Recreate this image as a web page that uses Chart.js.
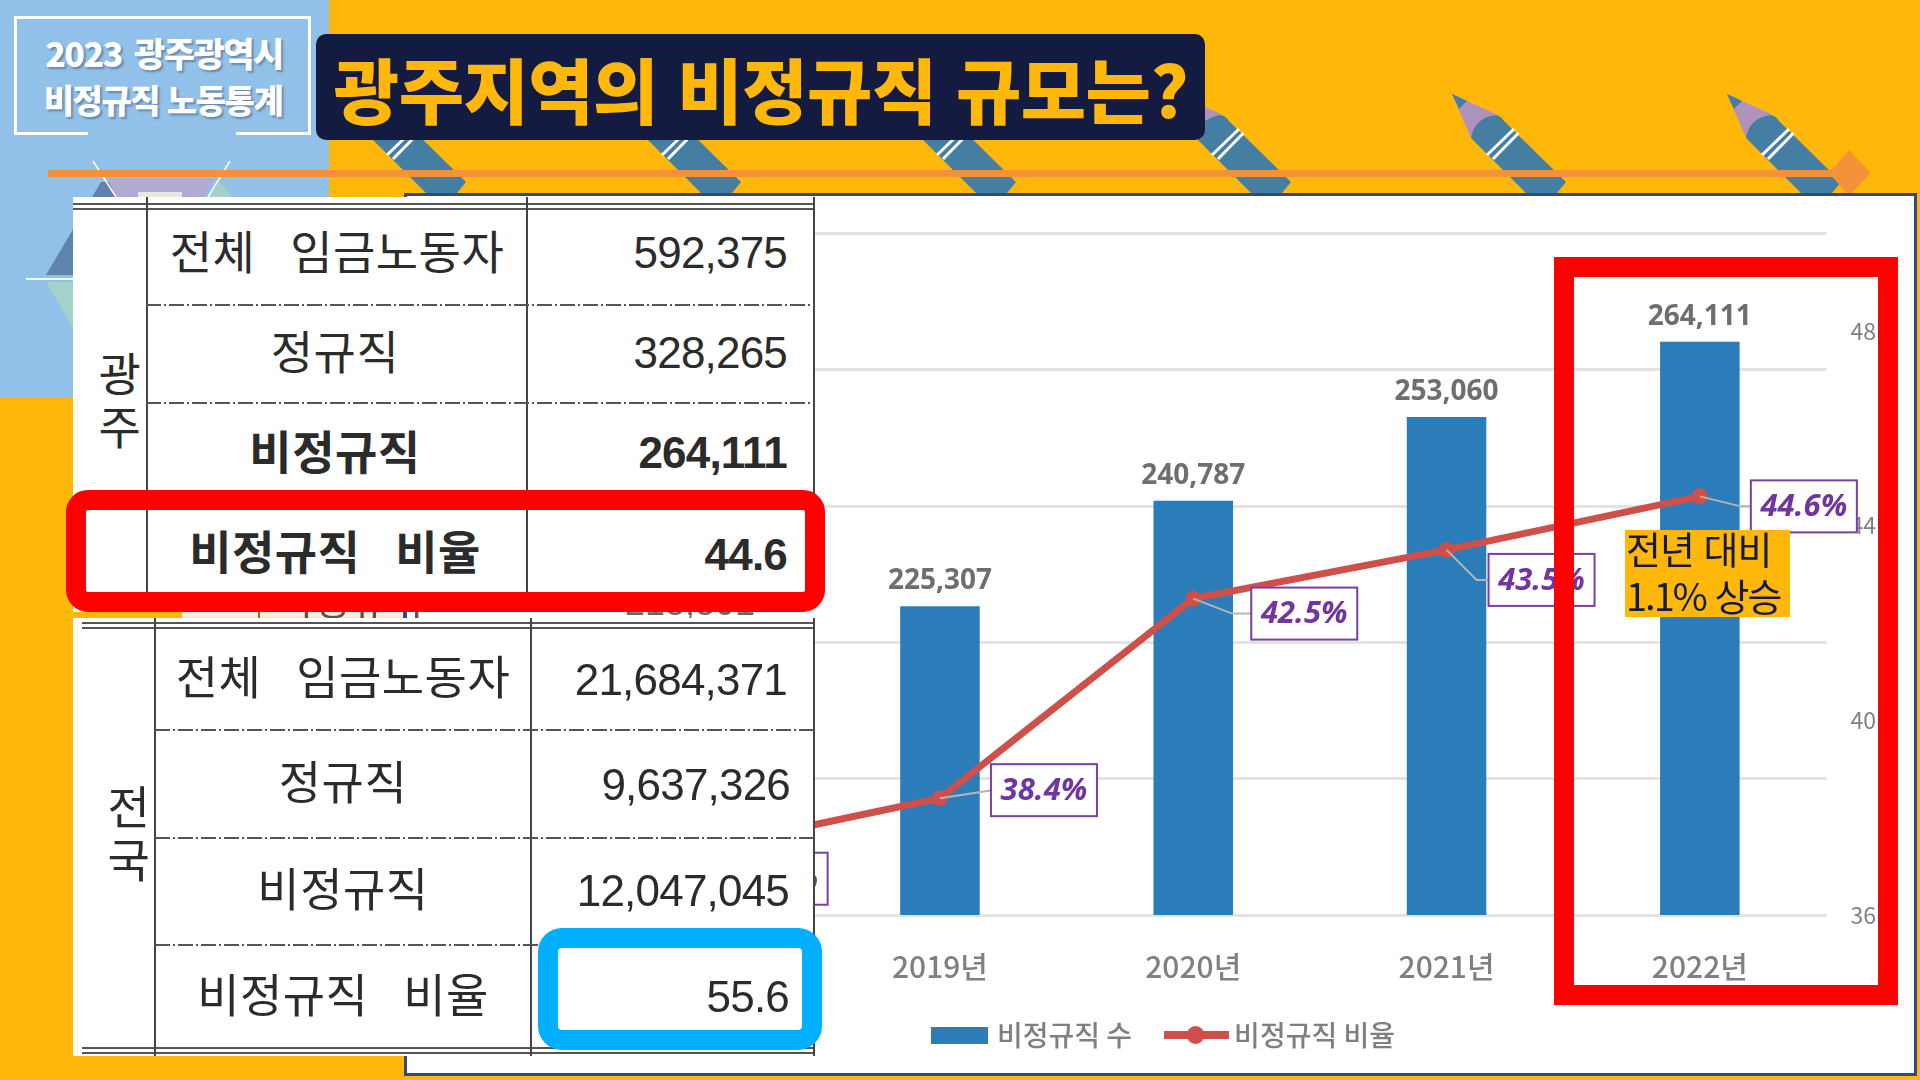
<!DOCTYPE html>
<html lang="ko">
<head>
<meta charset="utf-8">
<title>광주지역의 비정규직 규모는?</title>
<script src="https://cdn.jsdelivr.net/npm/chart.js@4"></script>
<style>
    html, body { margin: 0; padding: 0; }
    body { width: 1920px; height: 1080px; overflow: hidden; position: relative; background: #FFB809; font-family: "Noto Sans CJK KR", sans-serif; }
    .abs { position: absolute; }
    #deco { position: absolute; left: 0; top: 0; }
    #panel { position: absolute; left: 404px; top: 193px; width: 1507px; height: 877px; background: #fff; border: 3px solid #2F4A80; }
    #panel canvas { display: block; }
    .t { position: absolute; white-space: pre; line-height: 1; color: #2b2b2b; }
    .c { transform: translate(-50%, -50%); }
    .r { transform: translate(-100%, -50%); }
    .num { font-family: "Liberation Sans", sans-serif; font-size: 44px; letter-spacing: -0.8px; }
    .lab { font-size: 46px; letter-spacing: 0.5px; word-spacing: 4px; }
    .b { font-weight: 700; }
    .vl { position: absolute; width: 2px; background: #444; }
    .dbl { position: absolute; height: 3px; border-top: 2px solid #555; border-bottom: 2px solid #555; }
    .dash { position: absolute; height: 2px; background: repeating-linear-gradient(90deg, #555 0 15px, transparent 15px 18px, #555 18px 20px, transparent 20px 23px); }
</style>
</head>
<body>
<svg id="deco" width="1920" height="1080" xmlns="http://www.w3.org/2000/svg"></svg>
<div id="panel"><canvas id="comboChart" width="1506" height="877"></canvas></div>
<div id="overlay"></div>

<script>
// 차트 데이터
const years = ['2018년', '2019년', '2020년', '2021년', '2022년'];
const workerCounts = [213000, 225307, 240787, 253060, 264111];
const workerRates = [37.3, 38.4, 42.5, 43.5, 44.6];
const countTicks = [180000, 200000, 220000, 240000, 260000, 280000];
const rateTicks = [36, 40, 44, 48];

// 표 내용
const gwangjuLabels = ['전체  임금노동자', '정규직', '비정규직', '비정규직  비율'];
const gwangjuValues = ['592,375', '328,265', '264,111', '44.6'];
const nationLabels = ['전체  임금노동자', '정규직', '비정규직', '비정규직  비율'];
const nationValues = ['21,684,371', '9,637,326', '12,047,045', '55.6'];

const FONT = '"Noto Sans CJK KR", sans-serif';

/**
 * 배경 장식 (연필, 삼각형, 주황색 선)
 */
function drawDeco() {
    const svg = document.getElementById('deco');
    let html = '<rect x="0" y="0" width="329" height="397" fill="#91C0E8"/>';

    html += '<polygon points="101,182 46,275 73,275 140,275 120,182" fill="#5F83AA"/>';
    html += '<polygon points="46,282 73,282 73,328" fill="#A5D2C8"/>';
    html += '<polygon points="220,182 208,197 232,197" fill="#A5D2C8"/>';
    html += '<polygon points="107,178 213,178 205,197 116,197" fill="#B0ABD3"/>';
    html += '<rect x="138" y="192" width="44" height="5" fill="#E8E8E0"/>';
    html += '<path d="M93 161 L116 197 M230 161 L208 197" stroke="#fff" stroke-width="1.5" fill="none"/>';
    html += '<path d="M26 279 L73 279" stroke="#fff" stroke-width="2"/>';

    [352, 627, 902, 1177, 1452, 1727].forEach(x => {
        html += `<g transform="translate(${x},94)">
            <polygon points="0,0 44,20 19,44" fill="#B093BC"/>
            <polygon points="0,0 15,7 7,15" fill="#447FA3"/>
            <path d="M19 44 Q22 24 44 21 Q49 22 52 27 L114 88 L105 99 L74 99 Z" fill="#447FA3"/>
            <path d="M62 35 L35 61 M66.5 39 L41 65" stroke="#fff" stroke-width="3" fill="none"/>
        </g>`;
    });

    html += '<rect x="48" y="170" width="1785" height="7" fill="#F4923A"/>';
    html += '<polygon points="1849,150 1871,173 1849,196 1829,173" fill="#F4923A"/>';
    svg.innerHTML = html;
}

/**
 * 절대 위치 글자 추가
 */
function addText(parent, text, x, y, cls, extra) {
    const el = document.createElement('div');
    el.className = 't ' + cls;
    el.textContent = text;
    el.style.left = x + 'px';
    el.style.top = y + 'px';
    if (extra) Object.assign(el.style, extra);
    parent.appendChild(el);
    return el;
}

function addBox(parent, x, y, w, h, style) {
    const el = document.createElement('div');
    el.className = 'abs';
    el.style.left = x + 'px';
    el.style.top = y + 'px';
    el.style.width = w + 'px';
    el.style.height = h + 'px';
    if (style) Object.assign(el.style, style);
    parent.appendChild(el);
    return el;
}

function addLine(parent, cls, x, y, size) {
    const el = document.createElement('div');
    el.className = cls;
    el.style.left = x + 'px';
    el.style.top = y + 'px';
    if (cls === 'vl') el.style.height = size + 'px';
    else el.style.width = size + 'px';
    parent.appendChild(el);
}

/**
 * 머리글과 두 개의 표
 */
function drawOverlay() {
    const root = document.getElementById('overlay');
    const white = { color: '#fff', fontWeight: '900', textShadow: '2px 2px 2px rgba(70,90,120,.55)', letterSpacing: '-1.5px' };

    // 왼쪽 위 제목 상자
    addBox(root, 14, 16, 291, 116, { border: '3px solid #fff', borderBottom: 'none' });
    addBox(root, 14, 132, 74, 3, { background: '#fff' });
    addBox(root, 236, 132, 72, 3, { background: '#fff' });
    addText(root, '2023 광주광역시', 164, 53, 'c', { ...white, fontSize: '34px', wordSpacing: '4px' });
    addText(root, '비정규직 노동통계', 163, 99, 'c', { ...white, fontSize: '33px' });

    // 메인 제목
    addBox(root, 316, 34, 889, 106, { background: '#141B41', borderRadius: '10px' });
    addText(root, '광주지역의 비정규직 규모는?', 761, 87, 'c', { color: '#FFB809', fontWeight: '900', fontSize: '71px', letterSpacing: '-0.5px' });

    // 뒤에 깔린 표 조각 (대부분 가려짐)
    const strip = addBox(root, 182, 612, 633, 6, { overflow: 'hidden' });
    addBox(strip, 0, 0, 222, 6, { background: '#FDEBD9' });
    addBox(strip, 76, 0, 2, 6, { background: '#8a6a40' });
    addBox(strip, 221, 0, 2, 6, { background: '#2F4A80' });
    addText(strip, '비정규직', 168, -14, 'c', { fontSize: '40px', color: '#555' });
    addText(strip, '218,801', 508, -9, 'c', { fontSize: '36px', color: '#666', fontFamily: '"Liberation Sans", sans-serif' });

    // 광주 표
    addBox(root, 73, 197, 742, 294, { background: '#fff' });
    addBox(root, 73, 491, 742, 121, { background: '#fff' });
    addLine(root, 'dbl', 73, 203, 742);
    addLine(root, 'vl', 146, 197, 415);
    addLine(root, 'vl', 526, 197, 415);
    addLine(root, 'vl', 813, 197, 300);
    addLine(root, 'dash', 146, 304, 669);
    addLine(root, 'dash', 146, 402, 669);
    const gwangjuLabelY = [249, 349, 449, 549];
    const gwangjuValueY = [253, 353, 453, 555];
    gwangjuLabels.forEach((txt, i) => {
        addText(root, txt, i === 0 ? 337 : 335, gwangjuLabelY[i], 'c lab' + (i >= 2 ? ' b' : ''));
        addText(root, gwangjuValues[i], 787, gwangjuValueY[i], 'r num' + (i >= 2 ? ' b' : ''));
    });
    addText(root, '광', 120, 371, 'c lab');
    addText(root, '주', 120, 424, 'c lab');
    addBox(root, 66, 490, 759, 122, { border: '20px solid #FF0000', borderRadius: '22px', boxSizing: 'border-box' });

    // 전국 표
    addBox(root, 73, 618, 742, 438, { background: '#fff' });
    addLine(root, 'dbl', 82, 622, 733);
    addLine(root, 'dbl', 82, 1047, 733);
    addLine(root, 'vl', 154, 618, 438);
    addLine(root, 'vl', 530, 618, 438);
    addLine(root, 'vl', 813, 618, 438);
    addLine(root, 'dash', 155, 729, 660);
    addLine(root, 'dash', 155, 837, 660);
    addLine(root, 'dash', 155, 944, 660);
    const nationLabelY = [674, 779, 886, 992];
    const nationValueY = [680, 785, 891, 997];
    const nationValueX = [787, 790, 789, 789];
    nationLabels.forEach((txt, i) => {
        addText(root, txt, 343, nationLabelY[i], 'c lab');
        addText(root, nationValues[i], nationValueX[i], nationValueY[i], 'r num');
    });
    addText(root, '전', 129, 804, 'c lab');
    addText(root, '국', 129, 857, 'c lab');
    addBox(root, 538, 928, 284, 122, { border: '20px solid #00B0FF', borderRadius: '24px', boxSizing: 'border-box' });

    // 2022년 강조 상자와 설명
    addBox(root, 1554, 257, 344, 748, { border: '20px solid #FF0000', boxSizing: 'border-box' });
    addBox(root, 1625, 530, 165, 87, { background: '#FFB809' });
    addText(root, '전년 대비', 1626, 548, '', { color: '#141B41', fontSize: '38px', transform: 'translateY(-50%)', letterSpacing: '-1px' });
    addText(root, '1.1% 상승', 1626, 595, '', { color: '#141B41', fontSize: '38px', transform: 'translateY(-50%)', letterSpacing: '-2px' });
}

/**
 * 범례 아이콘 캔버스
 */
function makeLegendIcon(width, height, draw) {
    const icon = document.createElement('canvas');
    icon.width = width;
    icon.height = height;
    draw(icon.getContext('2d'));
    return icon;
}

// 막대 위 값 표시
const barValuePlugin = {
    id: 'barValues',
    afterDatasetsDraw(chart) {
        const ctx = chart.ctx;
        const meta = chart.getDatasetMeta(1);
        ctx.save();
        ctx.font = '700 28px "Noto Sans", sans-serif';
        ctx.fillStyle = '#6E6E6E';
        ctx.textAlign = 'center';
        ctx.textBaseline = 'middle';
        meta.data.forEach((bar, i) => {
            ctx.fillText(workerCounts[i].toLocaleString('en-US'), bar.x, bar.y - 25);
        });
        ctx.restore();
    }
};

// 비율 말풍선 (보라색 상자와 지시선)
const rateCalloutPlugin = {
    id: 'rateCallouts',
    afterDatasetsDraw(chart) {
        const ctx = chart.ctx;
        const meta = chart.getDatasetMeta(0);
        const shift = [[88, 27], [104, -8], [111, 15], [95, 30], [104, 10]];
        const elbow = [[68, 27], [52, -8], [39, 15], [30, 30], [41, 10]];
        const w = 106, h = 52;
        ctx.save();
        meta.data.forEach((pt, i) => {
            const cx = pt.x + shift[i][0];
            const cy = pt.y + shift[i][1];
            ctx.strokeStyle = '#B5B5B5';
            ctx.lineWidth = 2;
            ctx.beginPath();
            ctx.moveTo(pt.x, pt.y);
            ctx.lineTo(pt.x + elbow[i][0], pt.y + elbow[i][1]);
            ctx.lineTo(cx - w / 2, cy);
            ctx.stroke();

            ctx.fillStyle = '#fff';
            ctx.fillRect(cx - w / 2, cy - h / 2, w, h);
            ctx.strokeStyle = '#7A3FA5';
            ctx.lineWidth = 2;
            ctx.strokeRect(cx - w / 2, cy - h / 2, w, h);

            ctx.fillStyle = '#6F35A0';
            ctx.font = 'italic bold 31px "Noto Sans", sans-serif';
            ctx.textAlign = 'center';
            ctx.textBaseline = 'middle';
            ctx.fillText(workerRates[i].toFixed(1) + '%', cx, cy + 1);
        });
        ctx.restore();
    }
};

function renderChart() {
    const barIcon = makeLegendIcon(57, 17, c => {
        c.fillStyle = '#2A7DB8';
        c.fillRect(0, 0, 57, 17);
    });
    const lineIcon = makeLegendIcon(65, 20, c => {
        c.fillStyle = '#CF4F4B';
        c.fillRect(0, 6, 65, 8);
        c.beginPath();
        c.arc(32, 10, 9, 0, Math.PI * 2);
        c.fill();
    });

    new Chart(document.getElementById('comboChart'), {
        type: 'bar',
        data: {
            labels: years,
            datasets: [
                {
                    type: 'line',
                    label: '비정규직 비율',
                    data: workerRates,
                    yAxisID: 'yRate',
                    borderColor: '#CF4F4B',
                    backgroundColor: '#CF4F4B',
                    borderWidth: 7,
                    pointRadius: 8,
                    pointBackgroundColor: '#CF4F4B',
                    pointBorderWidth: 0,
                    tension: 0,
                    order: 0
                },
                {
                    type: 'bar',
                    label: '비정규직 수',
                    data: workerCounts,
                    yAxisID: 'yCount',
                    backgroundColor: '#2A7DB8',
                    categoryPercentage: 1,
                    barPercentage: 0.314,
                    order: 1
                }
            ]
        },
        options: {
            responsive: false,
            animation: false,
            layout: { autoPadding: false, padding: { top: 37.5, left: 10, right: 0, bottom: 14 } },
            plugins: {
                tooltip: { enabled: false },
                legend: {
                    position: 'bottom',
                    labels: {
                        color: '#7F7F7F',
                        font: { family: FONT, size: 28, weight: '500' },
                        usePointStyle: true,
                        pointStyleWidth: 48,
                        padding: 40,
                        generateLabels: () => [
                            { text: '비정규직 수', pointStyle: barIcon, fontColor: '#7F7F7F', datasetIndex: 1, lineWidth: 0 },
                            { text: '비정규직 비율', pointStyle: lineIcon, fontColor: '#7F7F7F', datasetIndex: 0, lineWidth: 0 }
                        ]
                    }
                }
            },
            scales: {
                x: {
                    grid: { display: false },
                    border: { display: false },
                    afterFit: scale => { scale.height = 66; },
                    ticks: {
                        color: '#808080',
                        padding: 26,
                        maxRotation: 0,
                        font: { family: FONT, size: 30, weight: '500' }
                    }
                },
                yCount: {
                    position: 'left',
                    min: countTicks[0],
                    max: countTicks[countTicks.length - 1],
                    afterFit: scale => { scale.width = 143; },
                    afterBuildTicks: scale => { scale.ticks = countTicks.map(v => ({ value: v })); },
                    grid: { color: '#E3E3E3', lineWidth: 3, drawTicks: false },
                    border: { display: false },
                    ticks: {
                        color: '#808080',
                        font: { family: FONT, size: 23 },
                        callback: v => v.toLocaleString('en-US')
                    }
                },
                yRate: {
                    position: 'right',
                    min: 36,
                    max: 50,
                    afterFit: scale => { scale.width = 86.5; },
                    afterBuildTicks: scale => { scale.ticks = rateTicks.map(v => ({ value: v })); },
                    grid: { display: false },
                    border: { display: false },
                    ticks: {
                        color: '#808080',
                        padding: 16,
                        font: { family: FONT, size: 23 }
                    }
                }
            }
        },
        plugins: [barValuePlugin, rateCalloutPlugin]
    });
}

drawDeco();
drawOverlay();
renderChart();
</script>
</body>
</html>
